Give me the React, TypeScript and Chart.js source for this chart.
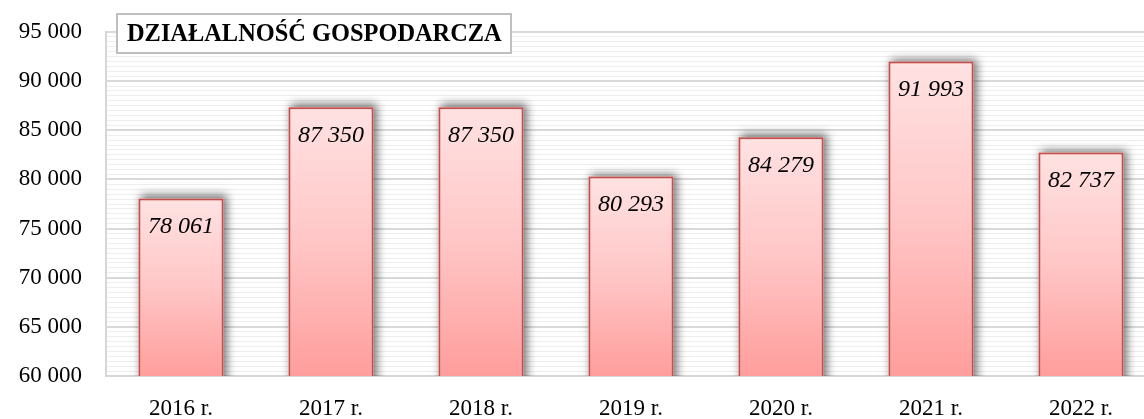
import React, { useEffect, useRef } from "react";
import { Chart, registerables } from "chart.js";

Chart.register(...registerables);

const TITLE = "DZIAŁALNOŚĆ GOSPODARCZA";
const categories = ["2016 r.", "2017 r.", "2018 r.", "2019 r.", "2020 r.", "2021 r.", "2022 r."];
const values = [78061, 87350, 87350, 80293, 84279, 91993, 82737];
const yMin = 60000;
const yMax = 95000;
const majorStep = 5000;
const minorStep = 500;

const fmt = (n: number) => String(Math.round(n)).replace(/\B(?=(\d{3})+(?!\d))/g, " ");

const AXIS_FONT = "'Liberation Serif', 'DejaVu Serif', serif";

const shadowPlugin = {
  id: "barShadow",
  beforeDatasetsDraw(chart: any) {
    const ctx = chart.ctx;
    const area = chart.chartArea;
    const meta = chart.getDatasetMeta(0);
    ctx.save();
    ctx.beginPath();
    ctx.rect(area.left, area.top - 20, area.right - area.left, area.bottom - area.top + 20);
    ctx.clip();
    meta.data.forEach((el: any) => {
      const { x, y, base, width } = el.getProps(["x", "y", "base", "width"], true);
      ctx.shadowColor = "rgba(0,0,0,0.55)";
      ctx.shadowBlur = 9;
      ctx.shadowOffsetX = 3;
      ctx.shadowOffsetY = -3;
      ctx.fillStyle = "#ffc0c0";
      ctx.fillRect(x - width / 2, y, width, base - y);
    });
    ctx.restore();
  },
};

const labelPlugin = {
  id: "valueLabels",
  afterDatasetsDraw(chart: any) {
    const ctx = chart.ctx;
    const meta = chart.getDatasetMeta(0);
    const data = chart.data.datasets[0].data as number[];
    ctx.save();
    ctx.font = `italic 24px ${AXIS_FONT}`;
    ctx.fillStyle = "#000";
    ctx.textAlign = "center";
    ctx.textBaseline = "middle";
    meta.data.forEach((el: any, i: number) => {
      const { x, y } = el.getProps(["x", "y"], true);
      ctx.fillText(fmt(data[i]), x, y + 28);
    });
    ctx.restore();
  },
};

const titlePlugin = {
  id: "boxTitle",
  afterDraw(chart: any) {
    const ctx = chart.ctx;
    const area = chart.chartArea;
    const left = area.left + 11;
    const top = 14;
    const w = 394;
    const h = 39;
    ctx.save();
    ctx.fillStyle = "#ffffff";
    ctx.fillRect(left, top, w, h);
    ctx.strokeStyle = "#bfbfbf";
    ctx.lineWidth = 2;
    ctx.strokeRect(left, top, w, h);
    let size = 24;
    ctx.font = `bold ${size}px ${AXIS_FONT}`;
    const target = 375;
    const m = ctx.measureText(TITLE).width;
    size = size * target / m;
    ctx.font = `bold ${size}px ${AXIS_FONT}`;
    ctx.fillStyle = "#000";
    ctx.textAlign = "left";
    ctx.textBaseline = "middle";
    ctx.fillText(TITLE, left + 10, top + h / 2 + 1);
    ctx.restore();
  },
};

export default function App() {
  const ref = useRef<HTMLCanvasElement>(null);

  useEffect(() => {
    if (!ref.current) return;
    const chart = new Chart(ref.current, {
      type: "bar",
      data: {
        labels: categories,
        datasets: [
          {
            data: values,
            backgroundColor: (c: any) => {
              const ch = c.chart;
              if (c.type !== "data" || !ch.scales || !ch.scales.y) return "#ffc0c0";
              const y = ch.scales.y.getPixelForValue(c.parsed ? c.parsed.y : values[c.dataIndex]);
              const b = ch.scales.y.getPixelForValue(yMin);
              if (!isFinite(y) || !isFinite(b)) return "#ffc0c0";
              const g = ch.ctx.createLinearGradient(0, y, 0, b);
              g.addColorStop(0, "#ffe2e2");
              g.addColorStop(0.5, "#ffc6c6");
              g.addColorStop(1, "#ff9e9c");
              return g;
            },
            borderColor: "#c0504d",
            borderWidth: 2,
            borderSkipped: "bottom",
            categoryPercentage: 1,
            barPercentage: 0.567,
          },
        ],
      },
      options: {
        responsive: false,
        animation: false,
        layout: { padding: { left: 0, top: 32, right: 4, bottom: 0 } },
        plugins: {
          legend: { display: false },
          tooltip: { enabled: false },
          title: { display: false },
        },
        scales: {
          x: {
            grid: { display: false, drawTicks: false },
            border: { display: true, color: "#d6d6d6", width: 2 },
            ticks: {
              color: "#000",
              padding: 19,
              font: { family: AXIS_FONT, size: 23 },
              maxRotation: 0,
            },
            afterFit: (s: any) => {
              s.height = 43;
              s.paddingLeft = 0;
              s.paddingRight = 0;
            },
          },
          y: {
            min: yMin,
            max: yMax,
            grid: {
              drawTicks: false,
              color: (c: any) => (c.tick && c.tick.value % majorStep === 0 ? "#d9d9d9" : "#eeeeee"),
              lineWidth: (c: any) => (c.tick && c.tick.value % majorStep === 0 ? 2 : 1),
            },
            border: { display: true, color: "#d6d6d6", width: 2 },
            ticks: {
              stepSize: minorStep,
              autoSkip: false,
              padding: 24,
              color: "#000",
              font: { family: AXIS_FONT, size: 23 },
              callback: (v: any) => (Number(v) % majorStep === 0 ? fmt(Number(v)) : ""),
            },
            afterFit: (s: any) => {
              s.width = 106;
              s.paddingTop = 0;
              s.paddingBottom = 0;
            },
          },
        },
      },
      plugins: [shadowPlugin, labelPlugin, titlePlugin],
    });
    return () => chart.destroy();
  }, []);

  return (
    <div style={{ position: "absolute", left: 0, top: 0, width: 1144, height: 419, overflow: "hidden", background: "#fff" }}>
      <canvas ref={ref} width={1160} height={419} style={{ display: "block", width: 1160, height: 419 }} />
    </div>
  );
}
